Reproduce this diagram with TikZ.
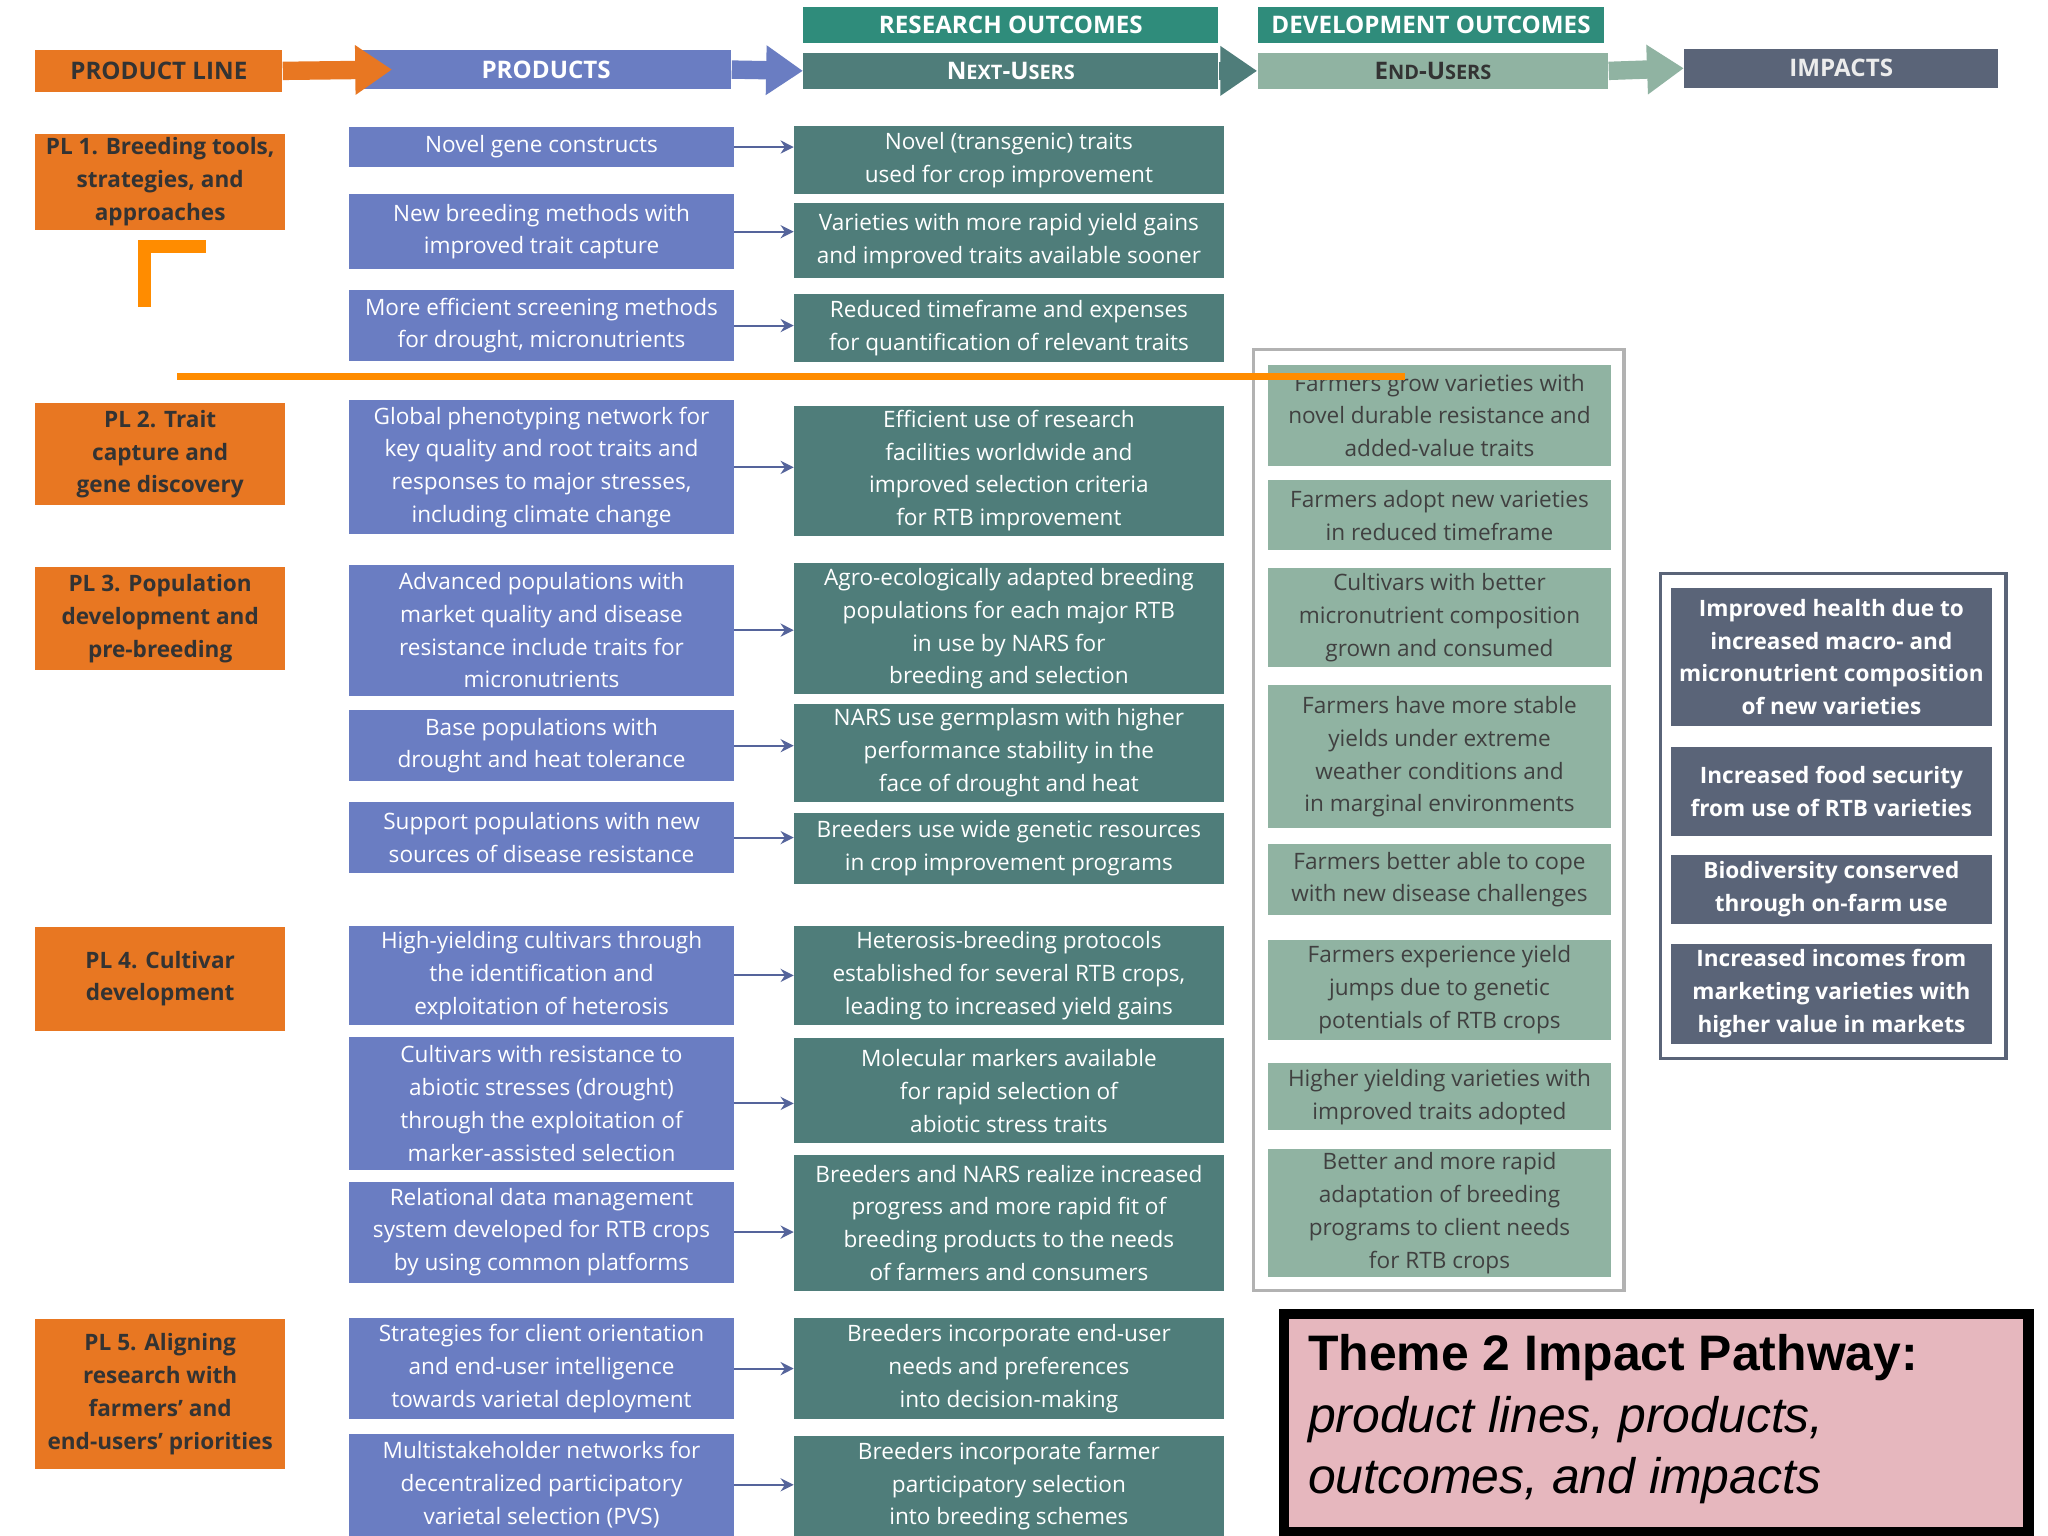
\documentclass[tikz,border=0pt]{standalone}
\usepackage{fontspec}
\setmainfont{Open Sans}
\usetikzlibrary{arrows.meta}
\definecolor{org}{HTML}{E87722}
\definecolor{prb}{HTML}{6A7DC2}
\definecolor{nxt}{HTML}{4F7D7A}
\definecolor{hdt}{HTML}{2F8C7B}
\definecolor{sage}{HTML}{90B3A2}
\definecolor{imp}{HTML}{5A6478}
\definecolor{pinkb}{HTML}{E6B7BE}
\newcommand\bx[7]{\node[#1,minimum width={(#5-#3)*0.5pt},minimum height={(#6-#4)*0.5pt}] (#2) at ({(#3+#5)/2},{(#4+#6)/2}) {#7};}
\newcommand\sm[1]{{\fontsize{7.6}{12}\selectfont #1}}
\tikzset{
 base/.style={rectangle,inner sep=1pt,align=center,font=\fontsize{8.6}{12.5}\selectfont,text=white},
 pl/.style={base,fill=org,text=black!80,font=\fontsize{8.6}{12.5}\selectfont\bfseries},
 prod/.style={base,fill=prb},
 nxtb/.style={base,fill=nxt},
 endb/.style={base,fill=sage,text=black!75},
 impb/.style={base,fill=imp,font=\fontsize{8.6}{12.5}\selectfont\bfseries},
 hd/.style={base,font=\fontsize{9.2}{12}\selectfont\bfseries},
 arr/.style={draw=prb!80!black,line width=0.8pt,-{Stealth[length=5pt,width=5pt]}},
 barr/.style={line width=7pt,-{Triangle[length=14pt,width=18pt]}},
}
\begin{document}
\begin{tikzpicture}[x=0.5pt,y=-0.5pt]
\useasboundingbox (0,0) rectangle (1560,1170);
\fill[white] (0,0) rectangle (1560,1170);
% headers
\bx{hd,fill=hdt}{ro}{612}{5}{928}{33}{RESEARCH OUTCOMES}
\bx{hd,fill=hdt}{do}{958}{5}{1222}{33}{DEVELOPMENT OUTCOMES}
\bx{hd,fill=org,text=black!80}{hpl}{27}{38}{215}{70}{PRODUCT LINE}
\bx{hd,fill=prb}{hpr}{275}{38}{557}{68}{PRODUCTS}
\bx{hd,fill=nxt}{hnx}{612}{40}{928}{68}{N\sm{EXT}-U\sm{SERS}}
\bx{hd,fill=sage,text=black!80}{hen}{958}{40}{1225}{68}{E\sm{ND}-U\sm{SERS}}
\bx{hd,fill=imp,text=white!85!gray}{him}{1283}{37}{1522}{67}{IMPACTS}
\draw[barr,org] (hpl.east) -- ([xshift=12pt]hpr.west);
\draw[barr,prb] (hpr.east) -- (hnx.west);
\draw[barr,nxt] (hnx.east) -- (hen.west);
\draw[barr,sage] (hen.east) -- (him.west);
% product lines
\bx{pl}{pl1}{27}{102}{217}{175}{PL 1. Breeding tools,\\strategies, and\\approaches}
\bx{pl}{pl2}{27}{307}{217}{385}{PL 2. Trait\\capture and\\gene discovery}
\bx{pl}{pl3}{27}{432}{217}{510}{PL 3. Population\\development and\\pre-breeding}
\bx{pl}{pl4}{27}{706}{217}{785}{PL 4. Cultivar\\development}
\bx{pl}{pl5}{27}{1005}{217}{1119}{PL 5. Aligning\\research with\\farmers' and\\end-users' priorities}
% products
\bx{prod}{p1}{266}{97}{559}{127}{Novel gene constructs}
\bx{prod}{p2}{266}{148}{559}{205}{New breeding methods with\\improved trait capture}
\bx{prod}{p3}{266}{221}{559}{275}{More efficient screening methods\\for drought, micronutrients}
\bx{prod}{p4}{266}{305}{559}{407}{Global phenotyping network for\\key quality and root traits and\\responses to major stresses,\\including climate change}
\bx{prod}{p5}{266}{430}{559}{530}{Advanced populations with\\market quality and disease\\resistance include traits for\\micronutrients}
\bx{prod}{p6}{266}{541}{559}{595}{Base populations with\\drought and heat tolerance}
\bx{prod}{p7}{266}{611}{559}{665}{Support populations with new\\sources of disease resistance}
\bx{prod}{p8}{266}{705}{559}{781}{High-yielding cultivars through\\the identification and\\exploitation of heterosis}
\bx{prod}{p9}{266}{790}{559}{891}{Cultivars with resistance to\\abiotic stresses (drought)\\through the exploitation of\\marker-assisted selection}
\bx{prod}{p10}{266}{900}{559}{977}{Relational data management\\system developed for RTB crops\\by using common platforms}
\bx{prod}{p11}{266}{1004}{559}{1081}{Strategies for client orientation\\and end-user intelligence\\towards varietal deployment}
\bx{prod}{p12}{266}{1092}{559}{1170}{Multistakeholder networks for\\decentralized participatory\\varietal selection (PVS)}
% next users
\bx{nxtb}{n1}{605}{96}{932}{148}{Novel (transgenic) traits\\used for crop improvement}
\bx{nxtb}{n2}{605}{155}{932}{212}{Varieties with more rapid yield gains\\and improved traits available sooner}
\bx{nxtb}{n3}{605}{224}{932}{276}{Reduced timeframe and expenses\\for quantification of relevant traits}
\bx{nxtb}{n4}{605}{309}{932}{408}{Efficient use of research\\facilities worldwide and\\improved selection criteria\\for RTB improvement}
\bx{nxtb}{n5}{605}{429}{932}{529}{Agro-ecologically adapted breeding\\populations for each major RTB\\in use by NARS for\\breeding and selection}
\bx{nxtb}{n6}{605}{536}{932}{611}{NARS use germplasm with higher\\performance stability in the\\face of drought and heat}
\bx{nxtb}{n7}{605}{619}{932}{673}{Breeders use wide genetic resources\\in crop improvement programs}
\bx{nxtb}{n8}{605}{705}{932}{781}{Heterosis-breeding protocols\\established for several RTB crops,\\leading to increased yield gains}
\bx{nxtb}{n9}{605}{791}{932}{871}{Molecular markers available\\for rapid selection of\\abiotic stress traits}
\bx{nxtb}{n10}{605}{880}{932}{983}{Breeders and NARS realize increased\\progress and more rapid fit of\\breeding products to the needs\\of farmers and consumers}
\bx{nxtb}{n11}{605}{1004}{932}{1081}{Breeders incorporate end-user\\needs and preferences\\into decision-making}
\bx{nxtb}{n12}{605}{1094}{932}{1170}{Breeders incorporate farmer\\participatory selection\\into breeding schemes}
\foreach \i in {1,...,12} {\draw[arr] (p\i.east) -- (p\i.east -| n\i.west);}
% end users
\draw[gray!60,line width=1.2pt] (955,266) rectangle (1237,983);
\bx{endb}{e1}{966}{278}{1227}{355}{Farmers grow varieties with\\novel durable resistance and\\added-value traits}
\bx{endb}{e2}{966}{366}{1227}{419}{Farmers adopt new varieties\\in reduced timeframe}
\bx{endb}{e3}{966}{433}{1227}{508}{Cultivars with better\\micronutrient composition\\grown and consumed}
\bx{endb}{e4}{966}{522}{1227}{631}{Farmers have more stable\\yields under extreme\\weather conditions and\\in marginal environments}
\bx{endb}{e5}{966}{643}{1227}{697}{Farmers better able to cope\\with new disease challenges}
\bx{endb}{e6}{966}{716}{1227}{792}{Farmers experience yield\\jumps due to genetic\\potentials of RTB crops}
\bx{endb}{e7}{966}{810}{1227}{861}{Higher yielding varieties with\\improved traits adopted}
\bx{endb}{e8}{966}{875}{1227}{973}{Better and more rapid\\adaptation of breeding\\programs to client needs\\for RTB crops}
% impacts
\draw[imp,line width=1.2pt] (1265,437) rectangle (1528,806);
\bx{impb}{i1}{1273}{448}{1517}{553}{Improved health due to\\increased macro- and\\micronutrient composition\\of new varieties}
\bx{impb}{i2}{1273}{569}{1517}{637}{Increased food security\\from use of RTB varieties}
\bx{impb}{i3}{1273}{651}{1517}{704}{Biodiversity conserved\\through on-farm use}
\bx{impb}{i4}{1273}{719}{1517}{795}{Increased incomes from\\marketing varieties with\\higher value in markets}
% orange marks
\draw[orange!90!yellow,line width=5pt] (110,234) -- (110,188) -- (157,188);
\draw[orange!90!yellow,line width=2.5pt] (135,287) -- (1070,287);
% title
\draw[line width=4pt,fill=pinkb] (978,1001) rectangle (1545,1167);
\node[anchor=north west,align=left,inner sep=0pt,font=\fontsize{19}{23.5}\selectfont] (t) at (996,1016)
 {\fontspec{Liberation Sans}\bfseries Theme 2 Impact Pathway:\\\fontspec{Liberation Sans}\itshape product lines, products,\\\fontspec{Liberation Sans}\itshape outcomes, and impacts};
\end{tikzpicture}
\end{document}
